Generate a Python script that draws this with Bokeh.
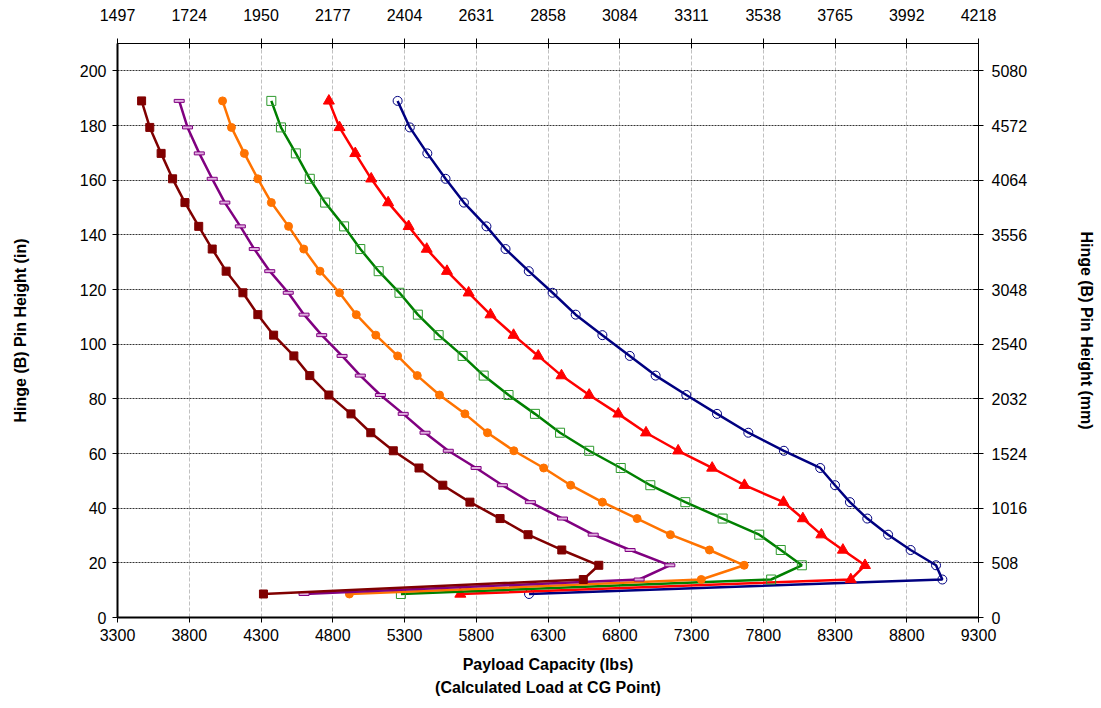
from bokeh.plotting import figure
from bokeh.models import Range1d, LinearAxis, FixedTicker
from bokeh.embed import file_html
from bokeh.resources import INLINE

# Hinge pin height levels (in), shared by all curves
y_in = [189.0, 179.3, 169.8, 160.5, 151.8, 143.1, 134.8, 126.7, 118.8, 110.8,
        103.3, 95.7, 88.5, 81.4, 74.5, 67.6, 61.0, 54.7, 48.4, 42.2,
        36.2, 30.3, 24.7, 19.1, 13.9, 8.6]

# Payload capacity (lbs) per curve
brown = [3468, 3525, 3604, 3684, 3770, 3866, 3960, 4057, 4174, 4278, 4388, 4529, 4640,
         4773, 4927, 5065, 5222, 5401, 5567, 5756, 5966, 6161, 6396, 6654, 6546, 4317]
purple = [3730, 3788, 3870, 3960, 4048, 4156, 4253, 4361, 4490, 4600, 4723, 4865, 4992,
          5132, 5291, 5443, 5605, 5799, 5982, 6177, 6401, 6615, 6872, 7149, 6935, 4600]
orange = [4032, 4094, 4184, 4278, 4372, 4492, 4598, 4711, 4847, 4964, 5100, 5252, 5389,
          5544, 5721, 5878, 6062, 6270, 6458, 6679, 6921, 7153, 7425, 7667, 7368, 4916]
green = [4372, 4439, 4543, 4640, 4747, 4879, 4992, 5120, 5265, 5393, 5538, 5705, 5852,
         6025, 6209, 6384, 6587, 6807, 7013, 7257, 7517, 7772, 7922, 8069, 7855, 5275]
red = [4773, 4847, 4957, 5068, 5186, 5329, 5455, 5596, 5747, 5899, 6060, 6232, 6394,
       6587, 6790, 6983, 7207, 7444, 7669, 7941, 8076, 8205, 8355, 8509, 8410, 5689]
blue = [5252, 5337, 5459, 5586, 5714, 5871, 6004, 6166, 6332, 6493, 6679, 6870, 7050,
        7264, 7478, 7696, 7944, 8197, 8300, 8404, 8525, 8670, 8827, 9004, 9048, 6168]

x_ticks = [3300, 3800, 4300, 4800, 5300, 5800, 6300, 6800, 7300, 7800, 8300, 8800, 9300]
kg_labels = ["1497", "1724", "1950", "2177", "2404", "2631", "2858", "3084", "3311",
             "3538", "3765", "3992", "4218"]
y_ticks = [0, 20, 40, 60, 80, 100, 120, 140, 160, 180, 200]
mm_labels = ["0", "508", "1016", "1524", "2032", "2540", "3048", "3556", "4064",
             "4572", "5080"]

FONT = "Liberation Sans"
FS = "16px"

p = figure(width=1098, height=700, x_range=Range1d(3300, 9300), y_range=Range1d(0, 210),
           output_backend="svg", toolbar_location=None,
           min_border_left=117, min_border_right=112, min_border_top=43, min_border_bottom=83)
p.outline_line_color = None
p.background_fill_color = "white"

# grids
p.xgrid.ticker = FixedTicker(ticks=x_ticks)
p.ygrid.ticker = FixedTicker(ticks=y_ticks)
p.xgrid.grid_line_color = "#c0c0c0"
p.xgrid.grid_line_dash = "4 2"
p.xgrid.grid_line_width = 1
p.ygrid.grid_line_color = "#333333"
p.ygrid.grid_line_dash = "2 1"
p.ygrid.grid_line_width = 1

def style_axis(ax, lw, tin, tout):
    ax.axis_line_width = lw
    ax.axis_line_color = "black"
    ax.major_tick_in = tin
    ax.major_tick_out = tout
    ax.major_tick_line_width = 1
    ax.minor_tick_line_color = None
    ax.major_label_text_font = FONT
    ax.major_label_text_font_size = FS
    ax.major_label_text_color = "black"
    ax.axis_label_text_font = FONT
    ax.axis_label_text_font_size = FS
    ax.axis_label_text_font_style = "bold"
    ax.axis_label_text_color = "black"

xa = p.xaxis[0]
xa.ticker = FixedTicker(ticks=x_ticks)
style_axis(xa, 2, 0, 5)
xa.axis_label = "Payload Capacity (lbs)\n(Calculated Load at CG Point)"
xa.axis_label_standoff = 12
xa.major_label_standoff = 6
xa.axis_label_text_line_height = 1.4

ya = p.yaxis[0]
ya.ticker = FixedTicker(ticks=y_ticks)
style_axis(ya, 2, 0, 5)
ya.axis_label = "Hinge (B) Pin Height (in)"
ya.axis_label_standoff = 48
ya.major_label_standoff = 6

top = LinearAxis(ticker=FixedTicker(ticks=x_ticks),
                 major_label_overrides={t: l for t, l in zip(x_ticks, kg_labels)})
style_axis(top, 1, 5, 5)
top.major_label_standoff = 18
p.add_layout(top, "above")

right = LinearAxis(ticker=FixedTicker(ticks=y_ticks),
                   major_label_overrides={t: l for t, l in zip(y_ticks, mm_labels)})
style_axis(right, 1, 5, 5)
right.axis_label = "Hinge (B) Pin Height (mm)"
right.axis_label_standoff = 48
right.major_label_standoff = 8
p.add_layout(right, "right")

LW = 2.5
# navy, open circles
p.line(blue, y_in, line_color="#000080", line_width=LW)
p.scatter(blue, y_in, marker="circle", size=9, fill_color=None, line_color="#000080", line_width=1)
# red, filled triangles
p.line(red, y_in, line_color="#FF0000", line_width=LW)
p.scatter(red, y_in, marker="triangle", size=11, fill_color="#FF0000", line_color="#FF0000")
# green, open squares
p.line(green, y_in, line_color="#008000", line_width=LW)
p.scatter(green, y_in, marker="square", size=9, fill_color=None, line_color="#2e9a2e", line_width=1)
# orange, filled circles
p.line(orange, y_in, line_color="#FF7300", line_width=LW)
p.scatter(orange, y_in, marker="circle", size=8, fill_color="#FF7300", line_color="#FF7300")
# purple, dash markers
p.line(purple, y_in, line_color="#800080", line_width=LW)
p.rect(purple, y_in, width=10, height=3, width_units="screen", height_units="screen",
       fill_color="#e0b0e0", line_color="#800080", line_width=1)
# dark red, filled squares
p.line(brown, y_in, line_color="#800000", line_width=LW)
p.scatter(brown, y_in, marker="square", size=8, fill_color="#800000", line_color="#800000")

open("out.html", "w").write(file_html(p, INLINE))
